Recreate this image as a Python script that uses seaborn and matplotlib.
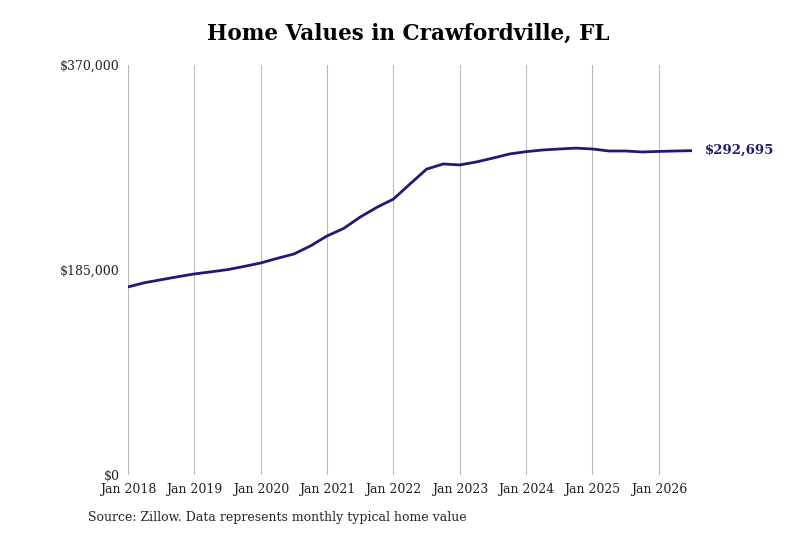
import matplotlib
matplotlib.use("Agg")
import matplotlib.pyplot as plt
import seaborn as sns
import pandas as pd

dates = [2018.0, 2018.25, 2018.5, 2018.75, 2019.0, 2019.25, 2019.5, 2019.75, 2020.0, 2020.25, 2020.5, 2020.75,
         2021.0, 2021.25, 2021.5, 2021.75, 2022.0, 2022.25, 2022.5, 2022.75, 2023.0, 2023.25, 2023.5,
         2023.75, 2024.0, 2024.25, 2024.5, 2024.75, 2025.0, 2025.25, 2025.5, 2025.75, 2026.0, 2026.25, 2026.5]
values = [169700, 173500, 176200, 178900, 181400, 183300, 185300, 188200, 191300, 195500, 199400, 206700,
          215700, 222500, 232800, 241500, 249000, 262600, 276000, 280700, 279800, 282500, 286000,
          289700, 291800, 293300, 294200, 295000, 294200, 292400, 292400, 291500, 292000, 292400, 292695]
tick_pos = list(range(2018, 2027))
tick_labels = [f"Jan {y}" for y in tick_pos]
y_ticks = [0, 185000, 370000]
y_labels = ["$0", "$185,000", "$370,000"]

sns.set_style("white")
plt.rcParams['font.family'] = ['DejaVu Serif']
fig = plt.figure(figsize=(8, 5.33), dpi=100)
ax = fig.add_axes([0.16, 0.109, 0.705, 0.769])
df = pd.DataFrame({"date": dates, "value": values})
sns.lineplot(data=df, x="date", y="value", ax=ax, color="#1f1a75", linewidth=2)
ax.set_xlim(2018, 2026.5)
ax.set_ylim(0, 370000)
ax.set_xticks(tick_pos)
ax.set_xticklabels(tick_labels, fontsize=9, color="#222222")
ax.set_yticks(y_ticks)
ax.set_yticklabels(y_labels, fontsize=9, color="#222222")
ax.tick_params(length=0, pad=6)
ax.grid(axis="x", color="#bbbbbb", linewidth=0.8)
ax.grid(axis="y", visible=False)
for s in ax.spines.values():
    s.set_visible(False)
ax.set_xlabel("")
ax.set_ylabel("")
ax.text(2026.7, values[-1], "$292,695", color="#1f1a75", fontsize=9.5, fontweight="bold", va="center")
fig.text(0.51, 0.925, "Home Values in Crawfordville, FL", ha="center", fontsize=15.5, fontweight="bold", color="black")
fig.text(0.11, 0.022, "Source: Zillow. Data represents monthly typical home value", fontsize=9)
fig.savefig("out.png", dpi=100)
